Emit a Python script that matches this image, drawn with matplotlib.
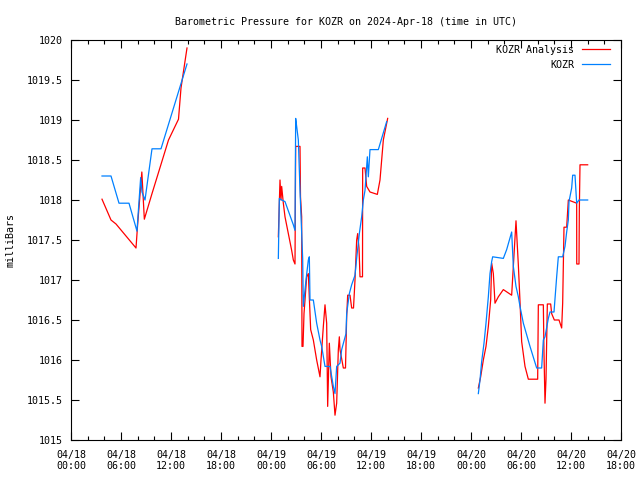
import numpy as np
import matplotlib
matplotlib.use("Agg")
import matplotlib.pyplot as plt
from matplotlib.ticker import MultipleLocator

nan = np.nan
# hours since 2024-04-18 00:00 UTC
analysis_hours = [
    3.72, 4.8, 5.4, 7.8, 8.0, 8.5, 8.8, 9.72, 11.7, 12.9, 13.2, 13.92,
    nan,
    24.88, 25.08, 25.2, 25.28, 25.48, 25.68, 26.08, 26.48, 26.68, 26.88, 26.96,
    27.48, 27.54, 27.68, 27.72, 27.84, 27.96, 28.08, 28.28, 28.48, 28.68, 28.76,
    29.08, 29.48, 29.88, 30.0, 30.28, 30.48, 30.68, 30.8, 31.0, 31.2, 31.48,
    31.68, 31.88, 32.08, 32.2, 32.28, 32.68, 32.94, 33.08, 33.2, 33.48, 33.68,
    33.9, 34.08, 34.28, 34.4, 34.56, 34.68, 34.98, 35.0, 35.28, 35.48, 35.88,
    36.76, 37.08, 37.48, 38.0,
    nan,
    48.88, 49.16, 49.48, 49.8, 50.08, 50.36, 50.48, 50.68, 50.88, 51.28, 51.88,
    52.88, 53.08, 53.4, 53.68, 53.88, 54.08, 54.48, 54.88, 56.0, 56.08, 56.68,
    56.76, 56.88, 57.0, 57.16, 57.56, 57.68, 58.0, 58.56, 58.88, 59.0, 59.16,
    59.48, 59.68, 60.68, 60.69, 60.96, 61.0, 61.08, 62.0,
]
analysis_mb = [
    1018.01, 1017.75, 1017.70, 1017.40, 1017.70, 1018.35, 1017.76, 1018.08,
    1018.75, 1019.01, 1019.40, 1019.90,
    nan,
    1017.54, 1018.25, 1018.00, 1018.17, 1017.96, 1017.79, 1017.58, 1017.37,
    1017.25, 1017.20, 1018.67, 1018.67, 1018.04, 1017.79, 1016.17, 1016.17,
    1016.58, 1016.75, 1017.04, 1017.08, 1016.58, 1016.38, 1016.25, 1016.00,
    1015.79, 1016.00, 1016.42, 1016.69, 1016.46, 1015.42, 1016.21, 1015.79,
    1015.60, 1015.31, 1015.46, 1016.13, 1016.29, 1016.13, 1015.90, 1015.90,
    1016.54, 1016.81, 1016.81, 1016.65, 1016.65, 1017.00, 1017.50, 1017.58,
    1017.40, 1017.04, 1017.04, 1018.40, 1018.40, 1018.17, 1018.10, 1018.07,
    1018.25, 1018.75, 1019.02,
    nan,
    1015.65, 1015.79, 1016.00, 1016.17, 1016.42, 1016.75, 1017.21, 1017.08,
    1016.71, 1016.79, 1016.88, 1016.81, 1017.17, 1017.74, 1017.19, 1016.73,
    1016.23, 1015.92, 1015.76, 1015.76, 1016.69, 1016.69, 1016.08, 1015.46,
    1015.76, 1016.70, 1016.70, 1016.58, 1016.50, 1016.50, 1016.40, 1016.71,
    1017.66, 1017.66, 1018.00, 1017.96, 1017.20, 1017.20, 1017.88, 1018.44,
    1018.44,
]
kozr_hours = [
    3.72, 4.8, 5.76, 6.96, 7.92, 8.04, 8.36, 8.52, 8.88, 9.72, 10.8, 13.92,
    nan,
    24.88, 25.0, 25.28, 25.68, 26.68, 26.88, 26.96, 27.08, 27.28, 27.48, 27.8,
    27.88, 28.2, 28.48, 28.6, 28.68, 29.08, 29.48, 29.88, 30.08, 30.48, 31.08,
    31.48, 31.68, 31.88, 32.28, 32.48, 33.0, 33.08, 33.4, 33.68, 34.08, 34.28,
    34.6, 34.88, 35.08, 35.28, 35.56, 35.68, 35.88, 36.88, 37.88,
    nan,
    48.88, 49.08, 49.28, 49.56, 49.8, 50.08, 50.28, 50.48, 50.6, 51.88, 52.28,
    52.88, 53.08, 53.4, 53.68, 53.88, 54.28, 55.08, 55.88, 56.48, 56.68, 56.88,
    57.28, 57.48, 57.96, 58.28, 58.48, 59.0, 59.28, 59.48, 59.68, 59.76, 60.08,
    60.2, 60.48, 60.56, 60.68, 60.96, 62.0,
]
kozr_mb = [
    1018.30, 1018.30, 1017.96, 1017.96, 1017.61, 1017.80, 1018.28, 1018.10,
    1018.00, 1018.64, 1018.64, 1019.70,
    nan,
    1017.27, 1018.02, 1018.00, 1017.98, 1017.69, 1017.62, 1019.02, 1018.92,
    1018.75, 1018.12, 1017.27, 1016.67, 1017.00, 1017.25, 1017.29, 1016.75,
    1016.75, 1016.46, 1016.25, 1016.17, 1015.92, 1015.92, 1015.67, 1015.58,
    1015.92, 1015.96, 1016.13, 1016.33, 1016.58, 1016.83, 1016.94, 1017.06,
    1017.27, 1017.58, 1017.79, 1018.00, 1018.12, 1018.54, 1018.29, 1018.63,
    1018.63, 1018.98,
    nan,
    1015.58, 1015.75, 1015.98, 1016.21, 1016.46, 1016.79, 1017.08, 1017.23,
    1017.29, 1017.27, 1017.38, 1017.60, 1017.17, 1016.92, 1016.79, 1016.67,
    1016.46, 1016.17, 1015.90, 1015.90, 1016.25, 1016.29, 1016.52, 1016.60,
    1016.60, 1017.04, 1017.29, 1017.29, 1017.42, 1017.60, 1017.75, 1017.98,
    1018.15, 1018.31, 1018.31, 1018.17, 1017.96, 1018.00, 1018.00,
]
x_tick_labels = ["04/18\n00:00", "04/18\n06:00", "04/18\n12:00", "04/18\n18:00",
                 "04/19\n00:00", "04/19\n06:00", "04/19\n12:00", "04/19\n18:00",
                 "04/20\n00:00", "04/20\n06:00", "04/20\n12:00", "04/20\n18:00"]
y_tick_labels = ["1015", "1015.5", "1016", "1016.5", "1017", "1017.5",
                 "1018", "1018.5", "1019", "1019.5", "1020"]

FS = 7.2
plt.rcParams['font.family'] = ['DejaVu Sans Mono']
fig = plt.figure(figsize=(6.4, 4.8), dpi=100)
ax = fig.add_axes([71/640, 40/480, 550/640, 400/480])

ax.plot(analysis_hours, analysis_mb, color='#ff0000', lw=0.9, label='KOZR Analysis')
ax.plot(kozr_hours, kozr_mb, color='#0080ff', lw=0.9, label='KOZR')

ax.set_xlim(0, 66)
ax.set_ylim(1015, 1020)
ax.set_xticks(np.arange(0, 67, 6))
ax.set_xticklabels(x_tick_labels)
ax.xaxis.set_minor_locator(MultipleLocator(2))
ax.set_yticks(np.arange(1015, 1020.01, 0.5))
ax.set_yticklabels(y_tick_labels)
ax.tick_params(which='both', direction='in', top=True, right=True,
               labelsize=FS, width=0.8)
ax.tick_params(axis='x', pad=7)
ax.tick_params(axis='y', pad=6)
ax.tick_params(which='major', length=6)
ax.tick_params(which='minor', length=3)
for s in ax.spines.values():
    s.set_linewidth(0.8)

ax.set_title('Barometric Pressure for KOZR on 2024-Apr-18 (time in UTC)',
             fontsize=FS, pad=11)
ax.set_ylabel('milliBars', fontsize=FS, labelpad=8)
ax.legend(loc='upper right', bbox_to_anchor=(1 - 5/550, 1 + 1/400),
          frameon=False, markerfirst=False, fontsize=FS,
          handlelength=2.8, borderaxespad=0.2, labelspacing=0.5)

fig.savefig('out.png', dpi=100)
